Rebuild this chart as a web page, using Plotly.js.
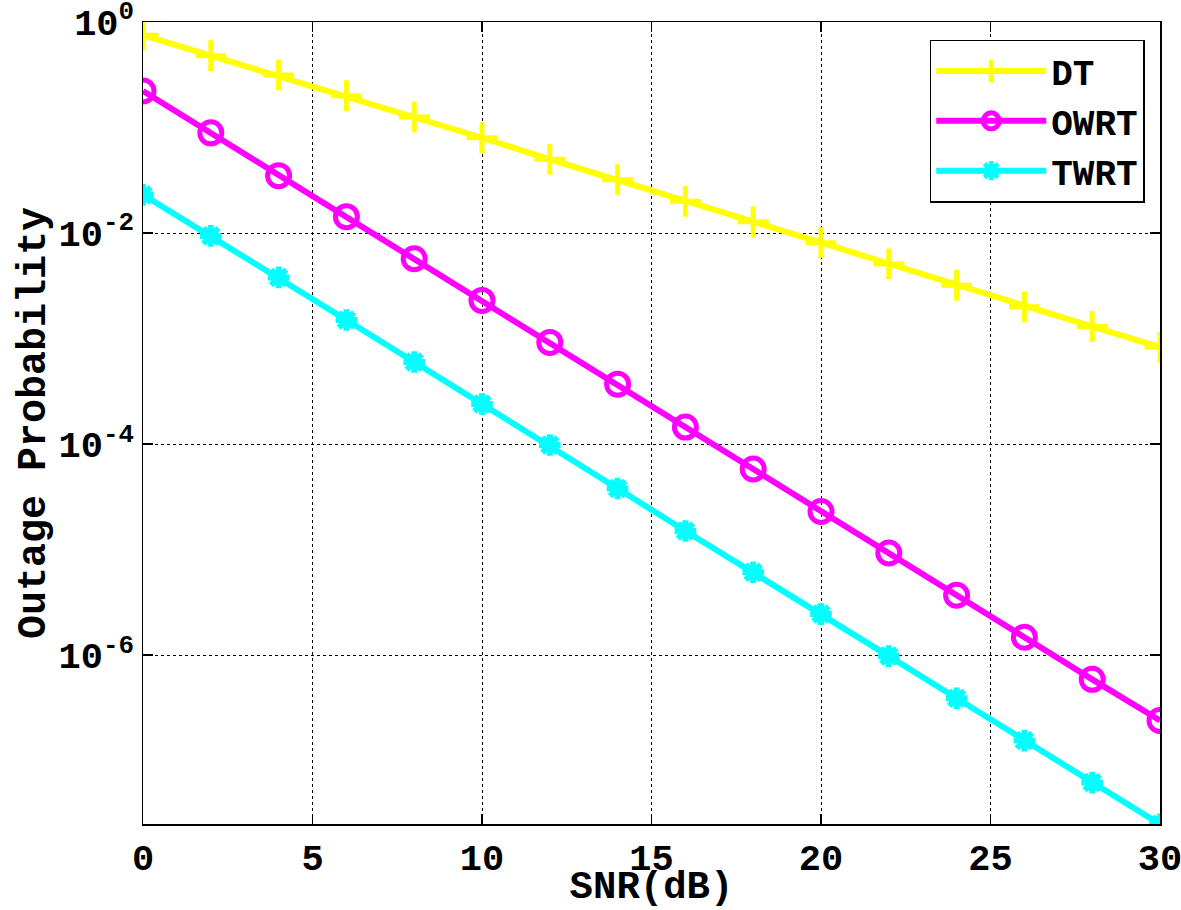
<!DOCTYPE html>
<html>
<head>
<meta charset="utf-8">
<script src="https://cdn.plot.ly/plotly-3.0.1.min.js"></script>
<style>html,body{margin:0;padding:0;background:#fff;}#chart{width:1181px;height:910px;}</style>
</head>
<body>
<div id="chart"></div>
<script>
const snr = [0, 2, 4, 6, 8, 10, 12, 14, 16, 18, 20, 22, 24, 26, 28, 30];
const dt = [0.75, 0.48, 0.315, 0.2, 0.126, 0.08, 0.05, 0.032, 0.02, 0.0128, 0.0081, 0.0051, 0.0032, 0.0020, 0.0013, 0.00083];
const owrt = [0.222, 0.089, 0.035, 0.0143, 0.0057, 0.0023, 0.00092, 0.00037, 1.45e-4, 5.8e-5, 2.3e-5, 9.3e-6, 3.7e-6, 1.48e-6, 5.9e-7, 2.4e-7];
const twrt = [0.0231, 0.0094, 0.0038, 0.0015, 6.0e-4, 2.4e-4, 9.8e-5, 3.8e-5, 1.5e-5, 6.1e-6, 2.45e-6, 9.8e-7, 3.9e-7, 1.55e-7, 6.2e-8, 2.5e-8];
const names = ['DT', 'OWRT', 'TWRT'];
const colors = ['#ffff00', '#ff00ff', '#00ffff'];
const xTicks = [0, 5, 10, 15, 20, 25, 30];
const yTicks = [1, 1e-2, 1e-4, 1e-6];
const yTickText = ['10<sup>0</sup>', '10<sup>-2</sup>', '10<sup>-4</sup>', '10<sup>-6</sup>'];

const font = 'Liberation Mono, Courier New, monospace';
const traces = [
  {x: snr, y: dt, name: names[0], mode: 'lines+markers',
   line: {color: colors[0], width: 6},
   marker: {symbol: 'cross-thin-open', size: 22, color: colors[0], line: {color: colors[0], width: 5}}},
  {x: snr, y: owrt, name: names[1], mode: 'lines+markers',
   line: {color: colors[1], width: 6},
   marker: {symbol: 'circle-open', size: 22, color: colors[1], line: {color: colors[1], width: 5}}},
  {x: snr, y: twrt, name: names[2], mode: 'lines+markers',
   line: {color: colors[2], width: 6},
   marker: {symbol: 'asterisk-open', size: 18, color: colors[2], line: {color: colors[2], width: 6}}}
];

const tf = {family: font, size: 37, color: '#000', weight: 'bold'};
const layout = {
  width: 1181, height: 910,
  margin: {l: 143, r: 21, t: 22, b: 86},
  paper_bgcolor: '#fff', plot_bgcolor: '#fff',
  font: tf,
  showlegend: true,
  legend: {x: 0.985, y: 0.978, xanchor: 'right', yanchor: 'top',
    bgcolor: '#fff', bordercolor: '#000', borderwidth: 1.5,
    font: {family: font, size: 36, color: '#000', weight: 'bold'},
    itemwidth: 110, tracegroupgap: 0},
  xaxis: {
    range: [0, 30], tickvals: xTicks,
    showline: true, linecolor: '#000', linewidth: 1.5, mirror: 'allticks',
    ticks: 'inside', ticklen: 10, tickcolor: '#000', tickwidth: 1.5,
    showgrid: true, gridcolor: '#000', griddash: 'dot', gridwidth: 1,
    zeroline: false, ticklabeloverflow: 'allow',
    tickfont: tf,
    title: {text: 'SNR(dB)', standoff: 12, font: {family: font, size: 39, color: '#000', weight: 'bold'}}
  },
  yaxis: {
    type: 'log', range: [-7.6, 0], exponentformat: 'power',
    tickvals: yTicks, ticktext: yTickText,
    showline: true, linecolor: '#000', linewidth: 1.5, mirror: 'allticks',
    ticks: 'inside', ticklen: 10, tickcolor: '#000', tickwidth: 1.5,
    showgrid: true, gridcolor: '#000', griddash: 'dot', gridwidth: 1,
    zeroline: false, ticklabeloverflow: 'allow',
    tickfont: tf,
    title: {text: 'Outage Probability', standoff: 0, font: {family: font, size: 40, color: '#000', weight: 'bold'}}
  }
};

Plotly.newPlot('chart', traces, layout, {displayModeBar: false, staticPlot: true});
</script>
</body>
</html>
